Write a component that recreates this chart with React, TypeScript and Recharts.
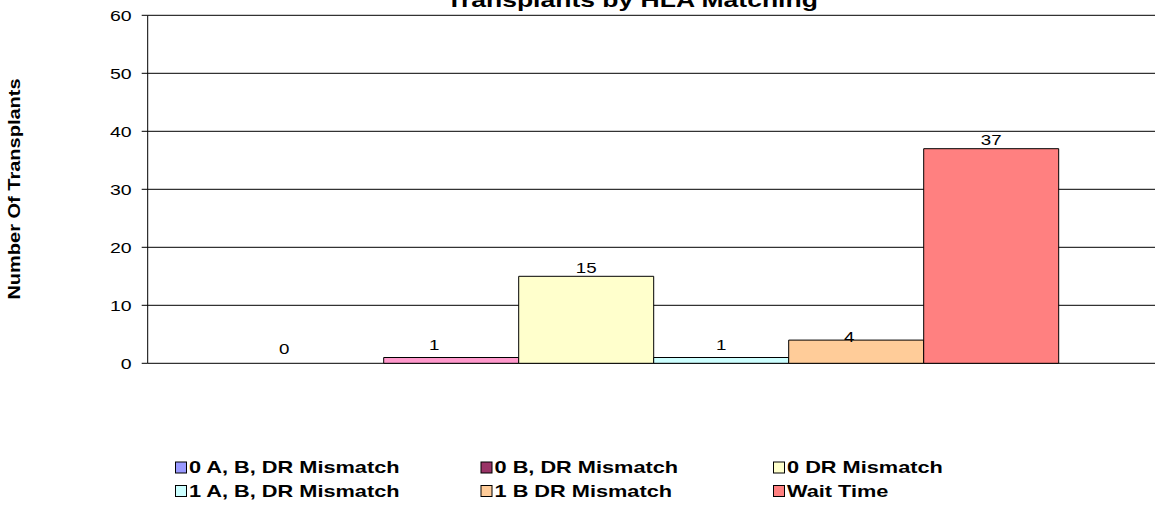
import React from 'react';
import { BarChart, Bar, XAxis, YAxis, CartesianGrid, LabelList } from 'recharts';

const categories = [''];
const seriesNames = [
  '0 A, B, DR Mismatch',
  '0 B, DR Mismatch',
  '0 DR Mismatch',
  '1 A, B, DR Mismatch',
  '1 B DR Mismatch',
  'Wait Time',
];
const seriesValues = [0, 1, 15, 1, 4, 37];
const barColors = ['#9999FF', '#FF99CC', '#FFFFCC', '#CCFFFF', '#FFCC99', '#FF8080'];
const legendColors = ['#9999FF', '#993366', '#FFFFCC', '#CCFFFF', '#FFCC99', '#FF8080'];
const yTicks = [0, 10, 20, 30, 40, 50, 60];
const title = 'Transplants by HLA Matching';
const yLabel = 'Number Of Transplants';

// label placement styles (dx, gap above bar top)
const labelDx = [-32, -17, 0, 0, -7, 0];
const labelGap = [8, 8, 3.6, 7.5, -2, 3.7];

const data = categories.map((c) => {
  const row: Record<string, any> = { name: c };
  seriesNames.forEach((_, i) => {
    row['s' + i] = seriesValues[i];
  });
  return row;
});

const FONT = '"Liberation Sans", Arial, sans-serif';
const SX = 1.36;

const makeLabel = (i: number) => (props: any) => {
  const { x, y, width, value } = props;
  const cx = Number(x) + Number(width) / 2 + labelDx[i];
  const cy = Number(y) - labelGap[i];
  return (
    <text
      transform={`translate(${cx},${cy}) scale(1.25,1)`}
      textAnchor="middle"
      fontFamily={FONT}
      fontSize={15}
      fill="#000"
    >
      {value}
    </text>
  );
};

const YTick = (props: any) => {
  const { x, y, payload } = props;
  return (
    <text
      transform={`translate(${x},${y}) scale(1.3,1)`}
      textAnchor="end"
      dy="0.36em"
      fontFamily={FONT}
      fontSize={15}
      fill="#000"
    >
      {payload.value}
    </text>
  );
};

const legendCols = [175.5, 481, 773.5];
const legendRows = [467.5, 491];

export default function App() {
  return (
    <div style={{ position: 'absolute', left: 0, top: 0, width: 1155, height: 508, overflow: 'hidden', background: '#fff' }}>
      <BarChart
        width={1175}
        height={508}
        data={data}
        margin={{ top: 15.3, right: 16, bottom: 144.7, left: 87.7 }}
        barGap={0}
        barSize={135}
      >
        <CartesianGrid vertical={false} stroke="#000" strokeWidth={1} />
        <XAxis dataKey="name" tick={false} tickLine={false} axisLine={{ stroke: '#000' }} height={0} />
        <YAxis
          width={60}
          domain={[0, 60]}
          ticks={yTicks}
          interval={0}
          axisLine={{ stroke: '#000' }}
          tickLine={{ stroke: '#000' }}
          tickSize={6}
          tickMargin={10}
          tick={<YTick />}
        />
        {seriesNames.map((n, i) => (
          <Bar
            key={n}
            dataKey={'s' + i}
            name={n}
            fill={barColors[i]}
            fillOpacity={seriesValues[i] === 0 ? 0 : 1}
            stroke={seriesValues[i] === 0 ? 'none' : '#000'}
            strokeWidth={1}
            minPointSize={seriesValues[i] === 0 ? 1 : 0}
            isAnimationActive={false}
          >
            <LabelList dataKey={'s' + i} content={makeLabel(i)} />
          </Bar>
        ))}
      </BarChart>
      <svg width={1155} height={508} style={{ position: 'absolute', left: 0, top: 0, pointerEvents: 'none' }}>
        <text
          transform={`translate(632,6.5) scale(${SX},1)`}
          textAnchor="middle"
          fontFamily={FONT}
          fontWeight="bold"
          fontSize={19.5}
        >
          {title}
        </text>
        <text
          transform="translate(20,189) rotate(-90) scale(1.25,1)"
          textAnchor="middle"
          fontFamily={FONT}
          fontWeight="bold"
          fontSize={16}
        >
          {yLabel}
        </text>
        {seriesNames.map((n, i) => {
          const col = i % 3;
          const row = Math.floor(i / 3);
          const x = legendCols[col];
          const y = legendRows[row];
          return (
            <g key={n}>
              <rect x={x} y={y - 5.5} width={11} height={11} fill={legendColors[i]} stroke="#000" strokeWidth={1} />
              <text
                transform={`translate(${x + 13.5},${y + 5.7}) scale(${SX},1)`}
                fontFamily={FONT}
                fontWeight="bold"
                fontSize={16}
              >
                {n}
              </text>
            </g>
          );
        })}
      </svg>
    </div>
  );
}
